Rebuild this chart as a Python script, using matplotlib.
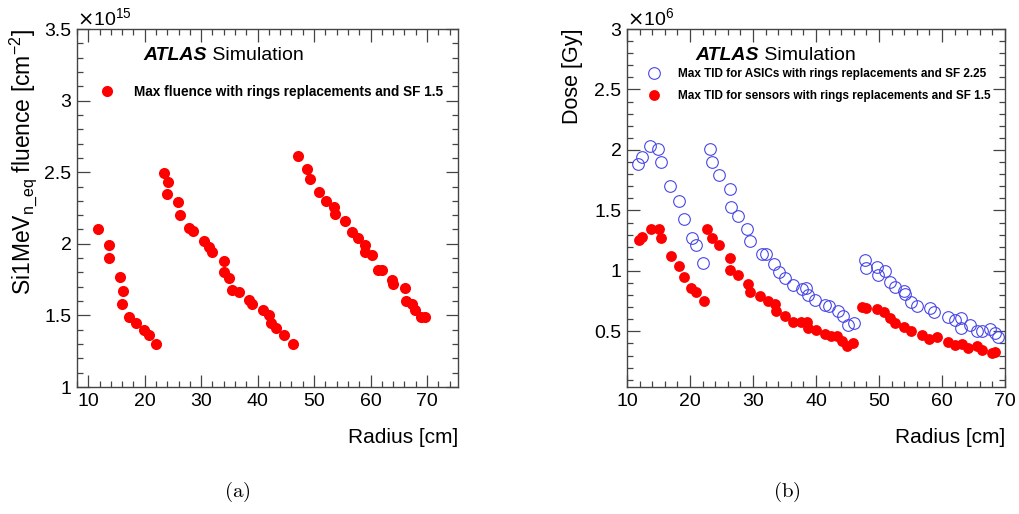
import matplotlib
matplotlib.use('Agg')
import matplotlib.pyplot as plt
from matplotlib.lines import Line2D
from matplotlib.ticker import MultipleLocator

plt.rcParams['font.family'] = ['Liberation Sans', 'DejaVu Sans']

# (a) max fluence, units of 1e15 cm^-2
fl_radius = [11.8, 13.6, 13.7, 15.7, 16.1, 15.9, 17.3, 18.5, 19.8, 20.8, 22.0,
             23.4, 24.1, 24.0, 25.9, 26.3, 27.9, 28.6, 30.5, 31.4, 32.0, 34.0, 34.0,
             34.9, 35.5, 36.7, 38.4, 39.0, 41.0, 42.1, 42.4, 43.3, 44.6, 46.3,
             47.2, 48.7, 49.2, 50.9, 52.2, 53.5, 53.7, 55.5, 56.8, 57.7, 59.1, 59.1,
             60.3, 61.3, 62.0, 63.8, 63.9, 66.1, 66.3, 67.3, 67.9, 69.0, 69.6]
fl_value = [2.10, 1.99, 1.90, 1.77, 1.67, 1.58, 1.49, 1.45, 1.40, 1.36, 1.30,
            2.495, 2.43, 2.35, 2.295, 2.20, 2.11, 2.09, 2.02, 1.98, 1.94, 1.88, 1.80,
            1.76, 1.68, 1.66, 1.61, 1.58, 1.54, 1.50, 1.45, 1.41, 1.36, 1.30,
            2.61, 2.52, 2.45, 2.36, 2.30, 2.26, 2.21, 2.16, 2.08, 2.04, 1.99, 1.94,
            1.92, 1.82, 1.82, 1.75, 1.72, 1.69, 1.60, 1.58, 1.54, 1.49, 1.49]

# (b) max TID, units of 1e6 Gy
asic_radius = [11.8, 12.4, 13.7, 14.9, 15.4, 16.9, 18.2, 19.1, 20.3, 20.9, 22.0,
               23.1, 23.5, 24.6, 26.3, 26.5, 27.6, 29.1, 29.6, 31.4, 32.0, 33.4, 34.2,
               35.0, 36.4, 37.7, 38.4, 38.8, 39.9, 41.4, 42.0, 43.5, 44.3, 45.0, 46.0,
               47.8, 47.9, 49.7, 49.9, 50.9, 51.7, 52.6, 53.9, 54.1, 55.0, 56.0, 58.1,
               58.8, 60.9, 62.0, 63.0, 63.0, 64.5, 65.5, 66.3, 67.6, 68.4, 68.9]
asic_dose = [1.886, 1.944, 2.033, 2.01, 1.90, 1.70, 1.58, 1.43, 1.275, 1.21, 1.065,
             2.01, 1.90, 1.79, 1.68, 1.525, 1.45, 1.35, 1.25, 1.14, 1.14, 1.06, 0.99,
             0.94, 0.88, 0.85, 0.86, 0.80, 0.76, 0.72, 0.71, 0.67, 0.63, 0.55, 0.57,
             1.09, 1.025, 1.03, 0.97, 1.0, 0.91, 0.87, 0.83, 0.81, 0.74, 0.71, 0.69,
             0.66, 0.62, 0.59, 0.61, 0.53, 0.55, 0.505, 0.505, 0.52, 0.49, 0.455]
sens_radius = [11.9, 12.4, 13.8, 15.0, 15.4, 17.0, 18.2, 19.0, 20.2, 20.9, 22.3,
               22.7, 23.5, 24.6, 26.3, 26.4, 27.6, 29.2, 29.6, 31.1, 32.4, 33.5, 33.6,
               35.0, 36.4, 37.6, 38.5, 38.8, 40.0, 41.5, 42.4, 43.3, 44.1, 44.9, 45.9,
               47.3, 48.0, 49.7, 50.8, 51.7, 52.6, 53.9, 55.1, 56.8, 57.9, 59.2, 60.9,
               62.1, 63.1, 64.1, 65.5, 66.4, 67.9, 68.4]
sens_dose = [1.256, 1.28, 1.35, 1.35, 1.27, 1.125, 1.04, 0.95, 0.86, 0.825, 0.75,
             1.35, 1.27, 1.21, 1.11, 1.01, 0.97, 0.89, 0.825, 0.79, 0.75, 0.73, 0.67,
             0.63, 0.58, 0.58, 0.575, 0.53, 0.51, 0.475, 0.46, 0.46, 0.42, 0.375, 0.40,
             0.70, 0.69, 0.685, 0.66, 0.61, 0.57, 0.54, 0.505, 0.47, 0.44, 0.45, 0.41,
             0.39, 0.395, 0.36, 0.375, 0.35, 0.32, 0.33]

W, H = 1019, 514
RED = '#ff0000'
BLUE = '#4848e8'
FRAME = '#444444'

fig = plt.figure(figsize=(W / 100, H / 100), dpi=100)


def px_axes(x0, y0, x1, y1):
    return fig.add_axes([x0 / W, 1 - y1 / H, (x1 - x0) / W, (y1 - y0) / H])


def root_style(ax, xmajor, ymajor, ymin):
    ax.xaxis.set_major_locator(MultipleLocator(xmajor))
    ax.xaxis.set_minor_locator(MultipleLocator(2))
    ax.yaxis.set_major_locator(MultipleLocator(ymajor))
    ax.yaxis.set_minor_locator(MultipleLocator(ymin))
    ax.tick_params(which='both', direction='in', top=True, right=True,
                   color=FRAME, labelsize=14, width=0.9)
    ax.tick_params(which='major', length=9, pad=4)
    ax.tick_params(which='minor', length=4.5)
    for s in ax.spines.values():
        s.set_color(FRAME)
        s.set_linewidth(1.0)


def atlas_label(ax, x, y):
    t = ax.text(x, y, 'ATLAS', transform=ax.transAxes, fontsize=14,
                fontweight='bold', fontstyle='italic', va='center', ha='left')
    ax.annotate(' Simulation', xycoords=t, xy=(1, 0.5), va='center', ha='left',
                fontsize=14)


# ---- (a)
ax1 = px_axes(77, 29, 458, 387)
ax1.plot(fl_radius, fl_value, 'o', color=RED, markersize=8, markeredgewidth=0)
ax1.set_xlim(8, 75.5)
ax1.set_ylim(1, 3.5)
root_style(ax1, 10, 0.5, 0.1)
ax1.set_yticks([1, 1.5, 2, 2.5, 3, 3.5])
ax1.set_yticklabels(['1', '1.5', '2', '2.5', '3', '3.5'])
ax1.set_xlabel('Radius [cm]', fontsize=15, loc='right', labelpad=13)
ax1.set_ylabel(r'Si1MeV$_{\mathregular{n\_eq}}$ fluence [cm$^{\mathregular{-2}}$]',
               fontsize=16.5, loc='top', labelpad=4)
ax1.text(0, 1.0, r'$\times\mathregular{10^{15}}$', transform=ax1.transAxes,
         fontsize=14, va='bottom', ha='left')
atlas_label(ax1, 0.175, 0.926)
h1 = Line2D([], [], ls='none', marker='o', color=RED, markersize=8, markeredgewidth=0)
ax1.legend([h1], ['Max fluence with rings replacements and SF 1.5'],
           loc='center left', bbox_to_anchor=(0.06, 0.824), frameon=False,
           prop={'weight': 'bold', 'size': 9.8}, handlelength=1.0,
           handletextpad=1.5, borderpad=0, borderaxespad=0)

# ---- (b)
ax2 = px_axes(627, 29, 1005, 387)
ax2.plot(asic_radius, asic_dose, 'o', markerfacecolor='none', markeredgecolor=BLUE,
         markersize=8.4, markeredgewidth=0.8)
ax2.plot(sens_radius, sens_dose, 'o', color=RED, markersize=7.8, markeredgewidth=0)
ax2.set_xlim(10, 70)
ax2.set_ylim(0.04, 3)
root_style(ax2, 10, 0.5, 0.1)
ax2.set_yticks([0.5, 1, 1.5, 2, 2.5, 3])
ax2.set_yticklabels(['0.5', '1', '1.5', '2', '2.5', '3'])
ax2.set_xlabel('Radius [cm]', fontsize=15, loc='right', labelpad=13)
ax2.set_ylabel('Dose [Gy]', fontsize=15.5, loc='top', labelpad=8)
ax2.text(0, 1.0, r'$\times\mathregular{10^{6}}$', transform=ax2.transAxes,
         fontsize=14, va='bottom', ha='left')
atlas_label(ax2, 0.18, 0.926)
h2a = Line2D([], [], ls='none', marker='o', markerfacecolor='none',
             markeredgecolor=BLUE, markersize=8.4, markeredgewidth=0.8)
h2b = Line2D([], [], ls='none', marker='o', color=RED, markersize=7.8, markeredgewidth=0)
ax2.legend([h2a, h2b], ['Max TID for ASICs with rings replacements and SF 2.25',
                        'Max TID for sensors with rings replacements and SF 1.5'],
           loc='upper left', bbox_to_anchor=(0.055, 0.89), frameon=False,
           prop={'weight': 'bold', 'size': 8.5}, handlelength=1.0,
           handletextpad=1.6, borderpad=0, borderaxespad=0, labelspacing=0.8)

# captions
fig.text(237 / W, 1 - 492 / H, r'$\mathrm{(a)}$', math_fontfamily='cm',
         fontsize=15, ha='center', va='center')
fig.text(787 / W, 1 - 492 / H, r'$\mathrm{(b)}$', math_fontfamily='cm',
         fontsize=15, ha='center', va='center')

fig.savefig('out.png', dpi=100)
